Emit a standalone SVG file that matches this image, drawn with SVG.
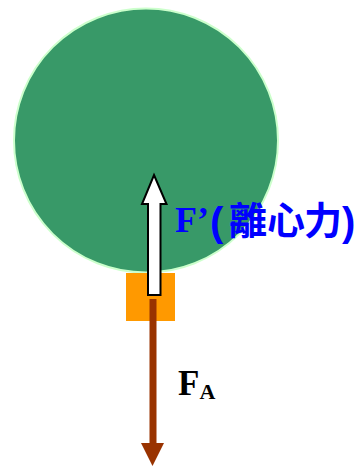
<svg xmlns="http://www.w3.org/2000/svg" width="362" height="466" viewBox="0 0 362 466">
<style>
.lbl{font-family:"Liberation Serif","Times New Roman",serif;font-weight:bold}
.cjk{font-family:"Liberation Sans","Noto Sans CJK TC",sans-serif;font-weight:bold}
</style>
<rect width="362" height="466" fill="#ffffff"/>
<g id="wheel"><circle cx="146" cy="140.5" r="132" fill="#389968" stroke="#ccffcc" stroke-width="2"/></g>
<g id="block"><rect x="126" y="273" width="49" height="48" fill="#ff9900"/></g>
<g id="connectors">
<polygon points="154,175 166.5,204 160.5,204 160.5,295 148,295 148,204 142,204" fill="#ffffff" stroke="#000000" stroke-width="2" stroke-linejoin="miter"/>
<rect x="149.5" y="299" width="7" height="145" fill="#993300"/>
<polygon points="141,443 164,443 152.5,466" fill="#993300"/>
</g>
<g id="label-fprime"><text y="232" font-size="36" fill="#0000ff" class="lbl"><tspan x="175">F’</tspan><tspan class="cjk" font-size="40" x="210" y="236">(</tspan><tspan class="cjk" font-size="38" x="229" y="234">離</tspan><tspan class="cjk" font-size="38" x="267" y="234">心</tspan><tspan class="cjk" font-size="38" x="304" y="234">力</tspan><tspan class="cjk" font-size="40" x="342" y="236">)</tspan></text></g>
<g id="label-fa"><text x="178" y="395" font-size="35" fill="#000000" class="lbl">F<tspan font-size="22" dy="4">A</tspan></text></g>
</svg>
